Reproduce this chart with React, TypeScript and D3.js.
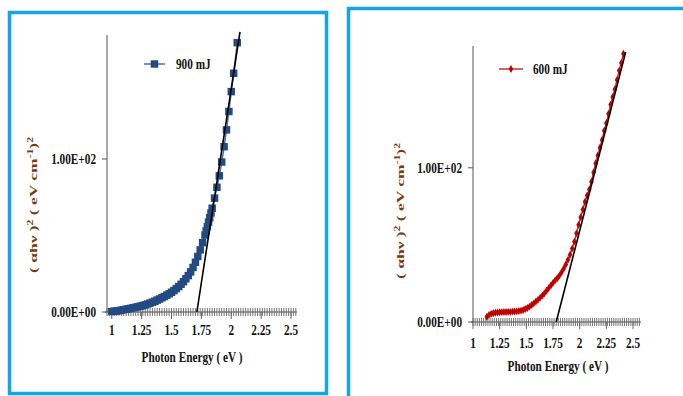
import React from 'react';
import * as d3 from 'd3';

// 900 mJ sample: photon energy (eV) and (αhν)²
const energy900 = [
  1.00, 1.02, 1.04, 1.06, 1.08, 1.10, 1.12, 1.14, 1.16, 1.18,
  1.20, 1.22, 1.24, 1.26, 1.28, 1.30, 1.32, 1.34, 1.36, 1.38,
  1.40, 1.42, 1.44, 1.46, 1.48, 1.50, 1.52, 1.54, 1.56, 1.58,
  1.60, 1.62, 1.64, 1.66, 1.68, 1.70, 1.72, 1.74, 1.76, 1.78,
  1.79, 1.80, 1.81, 1.82, 1.83, 1.84, 1.86, 1.88, 1.90, 1.92,
  1.94, 1.96, 1.98, 2.00, 2.02, 2.05,
];
const ahv900 = [
  0.3, 0.5, 0.7, 0.9, 1.2, 1.5, 1.8, 2.1, 2.4, 2.8,
  3.1, 3.5, 3.8, 4.2, 4.7, 5.2, 5.8, 6.4, 7.0, 7.8,
  8.5, 9.3, 10.1, 11.0, 11.9, 12.9, 14.0, 15.3, 16.6, 18.1,
  19.8, 21.7, 23.8, 26.2, 29.1, 32.5, 36.3, 40.6, 45.3, 50.3,
  53.0, 55.8, 58.7, 61.6, 64.7, 67.8, 74.4, 81.5, 89, 98,
  108, 119, 131, 144, 156, 176,
];
const fitEnergy900 = [1.712, 2.073];
const fitAhv900 = [0, 183];

// 600 mJ sample
const energy600 = [
  1.13, 1.15, 1.17, 1.19, 1.21, 1.23, 1.25, 1.27, 1.29, 1.31,
  1.33, 1.35, 1.37, 1.39, 1.41, 1.43, 1.45, 1.47, 1.49, 1.51,
  1.53, 1.55, 1.57, 1.59, 1.61, 1.63, 1.65, 1.67, 1.69, 1.71,
  1.73, 1.75, 1.77, 1.79, 1.81, 1.83, 1.85, 1.87, 1.89, 1.91,
  1.93, 1.95, 1.97, 1.99, 2.01, 2.03, 2.05, 2.07, 2.09, 2.11,
  2.13, 2.15, 2.17, 2.19, 2.21, 2.23, 2.25, 2.27, 2.29, 2.31,
  2.33, 2.35, 2.37, 2.39, 2.41,
];
const ahv600 = [
  3.4, 4.6, 5.3, 5.7, 6.0, 6.2, 6.3, 6.4, 6.5, 6.5,
  6.6, 6.6, 6.7, 6.8, 6.9, 7.1, 7.4, 7.8, 8.4, 9.1,
  10.0, 11.0, 12.1, 13.3, 14.5, 15.8, 17.1, 18.6, 20.3, 22.0,
  23.7, 25.4, 27.0, 28.4, 30.1, 32.2, 34.6, 37.3, 40.3, 43.6,
  47.6, 52.1, 57.5, 63, 68, 73, 78, 82, 86, 91,
  97, 103, 108, 113, 118, 124, 129, 135, 141, 146,
  151, 157, 163, 168, 174,
];
const fitEnergy600 = [1.78, 2.431];
const fitAhv600 = [0, 175];

const xTickValues = [1, 1.25, 1.5, 1.75, 2, 2.25, 2.5];
const yTickValues = [0, 100];
const yTickLabels = ['0.00E+00', '1.00E+02'];

const FONT = '"Liberation Serif", "Times New Roman", serif';
const FRAME = '#14a5e8';
const SQUEEZE = 0.75; // the source picture is squeezed horizontally

const Label = ({ x, y, anchor = 'middle', size = 15, children }: any) => (
  <text
    transform={`translate(${x},${y}) scale(${SQUEEZE},1)`}
    textAnchor={anchor}
    fontFamily={FONT}
    fontWeight="bold"
    fontSize={size}
    fill="#111"
  >
    {children}
  </text>
);

const Panel = ({
  frame, xDomain, xRange, yDomain, yRange, energy, ahv, fitE, fitA,
  name, color, lineColor, marker, markerSize, legend, yLabel, tickPad, title,
}: any) => {
  const x = d3.scaleLinear().domain(xDomain).range(xRange);
  const y = d3.scaleLinear().domain(yDomain).range(yRange);
  const x0 = xRange[0];
  const y0 = yRange[0];

  const line = d3.line<number>()
    .x((d, i) => x(energy[i]))
    .y(d => y(d));
  const fit = d3.line<number>()
    .x((d, i) => x(fitE[i]))
    .y(d => y(d));
  const sym = d3.symbol().type(marker).size(markerSize)();

  const minor = d3.range(xDomain[0], xDomain[1] + 0.001, 0.02);

  return (
    <g>
      <rect x={frame[0]} y={frame[1]} width={frame[2]} height={frame[3]}
        fill="none" stroke={FRAME} strokeWidth={3.5} />

      {/* axes */}
      <line x1={x0} x2={x0} y1={y0} y2={yRange[1]} stroke="#555" strokeWidth={1} />
      <line x1={x0 - 2} x2={xRange[1]} y1={y0} y2={y0} stroke="#444" strokeWidth={1.2} />
      {minor.map((v: number, i: number) => (
        <line key={i} x1={x(v)} x2={x(v)} y1={y0 - 4} y2={y0 + 4} stroke="#666" strokeWidth={0.9} />
      ))}
      {xTickValues.map(v => (
        <line key={'M' + v} x1={x(v)} x2={x(v)} y1={y0} y2={y0 + 7} stroke="#666" strokeWidth={1} />
      ))}
      {yTickValues.map((v, i) => (
        <g key={v}>
          <line x1={x0 - 5} x2={x0} y1={y(v)} y2={y(v)} stroke="#555" />
          <Label x={x0 - 11} y={y(v) + 5} anchor="end">{yTickLabels[i]}</Label>
        </g>
      ))}
      {xTickValues.map(v => (
        <Label key={v} x={x(v)} y={y0 + tickPad}>{String(v)}</Label>
      ))}
      <Label x={title[0]} y={title[1]}>Photon Energy ( eV )</Label>

      <text
        transform={`translate(${yLabel[0]},${yLabel[1]}) rotate(-90) scale(1,${SQUEEZE})`}
        textAnchor="middle" fontFamily={FONT} fontWeight="bold" fontSize={15}
        fill="#7a380c" textLength={136} lengthAdjust="spacingAndGlyphs"
      >
        <tspan>( αhν )</tspan>
        <tspan fontSize={10} dy={-5}>2</tspan>
        <tspan dy={5}> ( eV  cm</tspan>
        <tspan fontSize={10} dy={-5}>-1</tspan>
        <tspan dy={5}>)</tspan>
        <tspan fontSize={10} dy={-5}>2</tspan>
      </text>

      {/* series */}
      <path d={line(ahv) || ''} fill="none" stroke={lineColor} strokeWidth={1.5} />
      {ahv.map((v: number, i: number) => (
        <path key={i} d={sym || ''} transform={`translate(${x(energy[i])},${y(v)})`} fill={color} />
      ))}
      <path d={fit(fitA) || ''} fill="none" stroke="#000" strokeWidth={1.6} />

      {/* legend */}
      <line x1={legend[0]} x2={legend[1]} y1={legend[2]} y2={legend[2]} stroke={lineColor} strokeWidth={1.5} />
      <path d={sym || ''} transform={`translate(${(legend[0] + legend[1]) / 2},${legend[2]})`} fill={color} />
      <Label x={legend[3]} y={legend[2] + 5} anchor="start">{name}</Label>
    </g>
  );
};

export default function App() {
  return (
    <svg width={683} height={396} style={{ position: 'fixed', left: 0, top: 0, background: '#fff' }}>
      <rect width={683} height={396} fill="#fff" />
      <Panel
        frame={[9.5, 12.5, 317, 381]}
        xDomain={[0.96, 2.55]} xRange={[107, 297]}
        yDomain={[0, 181]} yRange={[312, 35]}
        energy={energy900} ahv={ahv900} fitE={fitEnergy900} fitA={fitAhv900}
        name="900 mJ" color="#234b82" lineColor="#4a6fa5"
        marker={d3.symbolSquare} markerSize={56}
        legend={[144, 165, 64, 176]}
        yLabel={[37, 205]} tickPad={23} title={[192, 362]}
      />
      <Panel
        frame={[348.5, 8.5, 400, 400]}
        xDomain={[1, 2.575]} xRange={[473, 641]}
        yDomain={[0, 179]} yRange={[322, 46]}
        energy={energy600} ahv={ahv600} fitE={fitEnergy600} fitA={fitAhv600}
        name="600 mJ" color="#c00000" lineColor="#c83030"
        marker={d3.symbolDiamond} markerSize={18}
        legend={[499, 523, 69, 533]}
        yLabel={[404, 211]} tickPad={26} title={[558, 371]}
      />
    </svg>
  );
}
